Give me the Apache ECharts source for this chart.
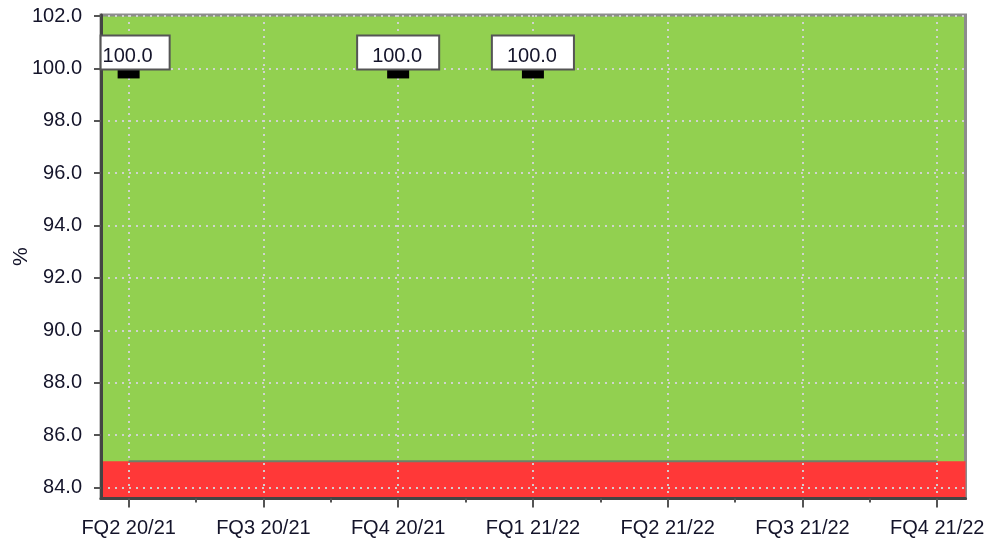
<!DOCTYPE html>
<html>
<head>
<meta charset="utf-8">
<script src="https://cdn.jsdelivr.net/npm/echarts@6/dist/echarts.min.js"></script>
<style>html,body{margin:0;padding:0;background:#fff}#c{width:992px;height:541px}</style>
</head>
<body>
<div id="c"></div>
<script>
var categories = ['FQ2 20/21','FQ3 20/21','FQ4 20/21','FQ1 21/22','FQ2 21/22','FQ3 21/22','FQ4 21/22'];
var actualValues = [100, null, 100, 100, null, null, null];
var thresholdValues = [85, 85, 85, 85, 85, 85, 85];
var yTickLabels = [84, 86, 88, 90, 92, 94, 96, 98, 100, 102];
var redBandTop = 85;
var yMin = 83.58, yMax = 102.04;
var xMin = -0.205, xMax = 6.21;

var catIdx = categories.map(function(_, i){ return i; });
var midIdx = catIdx.slice(1).map(function(i){ return i - 0.5; });
var txt = '#14142a';
var font = 'Liberation Sans';

var scatterData = actualValues.map(function(v, i){
  if (v == null) return [i, null];
  var item = {value: [i, v]};
  if (i === 0) {
    item.label = {padding: [10, 16, 2, 1], offset: [6.5, 0]};
  }
  return item;
});
var lineData = thresholdValues.map(function(v, i){ return [i, v]; });

var gridLine = {show: true, lineStyle: {color: 'rgba(212,212,212,0.95)', width: 2, type: [2, 5]}};

var chart = echarts.init(document.getElementById('c'), null, {renderer: 'canvas'});
chart.setOption({
  animation: false,
  textStyle: {fontFamily: font},
  grid: {
    left: 101, right: 26.5, top: 15, bottom: 42.5,
    containLabel: false, outerBoundsMode: 'none',
    show: true, backgroundColor: '#92D050',
    borderColor: '#8c8c8c', borderWidth: 3
  },
  xAxis: [{
    type: 'value', min: xMin, max: xMax, z: 3,
    axisLine: {show: true, onZero: false, lineStyle: {color: '#444', width: 3}},
    axisTick: {show: true, customValues: catIdx, length: 9, lineStyle: {color: '#555', width: 2}},
    axisLabel: {customValues: catIdx, formatter: function(v){ return categories[Math.round(v)]; },
      fontSize: 20, color: txt, margin: 20, fontFamily: font},
    splitLine: gridLine
  }, {
    type: 'value', min: xMin, max: xMax, position: 'bottom', z: 3,
    axisLine: {show: false},
    axisTick: {show: true, customValues: midIdx, length: 4, lineStyle: {color: '#555', width: 2}},
    axisLabel: {show: false},
    splitLine: {show: false}
  }],
  yAxis: {
    type: 'value', min: yMin, max: yMax, z: 3,
    name: '%', nameLocation: 'middle', nameGap: 69, nameRotate: 90, nameMoveOverlap: false,
    nameTextStyle: {fontSize: 21, color: txt, fontFamily: font},
    axisLine: {show: true, onZero: false, lineStyle: {color: '#444', width: 3}},
    axisTick: {show: true, customValues: yTickLabels, length: 7, lineStyle: {color: '#555', width: 2}},
    axisLabel: {customValues: yTickLabels, formatter: function(v){ return v.toFixed(1); },
      fontSize: 20, color: txt, margin: 19, fontFamily: font},
    splitLine: gridLine
  },
  series: [{
    type: 'line', data: lineData, symbol: 'none',
    lineStyle: {color: '#6f7f68', width: 2},
    markArea: {silent: true, itemStyle: {color: '#FF3838', opacity: 1},
      data: [[{yAxis: yMin}, {yAxis: redBandTop}]]},
    z: 2
  }, {
    type: 'scatter', data: scatterData,
    symbol: 'rect', symbolSize: [22, 10], symbolOffset: [0, 5],
    itemStyle: {color: '#000', opacity: 1},
    label: {
      show: true, position: 'top', distance: 0,
      formatter: function(p){ return p.value[1].toFixed(1); },
      fontSize: 20, color: txt, fontFamily: font, lineHeight: 20,
      backgroundColor: '#fff', borderColor: '#555', borderWidth: 2,
      padding: [10, 16, 2, 14]
    },
    z: 5
  }]
});
</script>
</body>
</html>
